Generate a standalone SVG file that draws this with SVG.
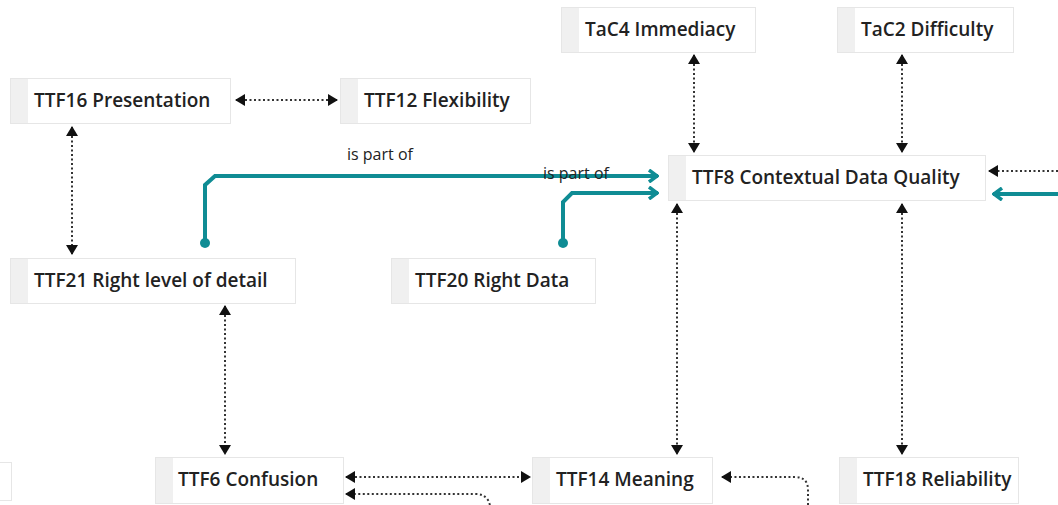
<svg xmlns="http://www.w3.org/2000/svg" width="1058" height="505" viewBox="0 0 1058 505">
<style>
.box{fill:#ffffff;stroke:#e6e6e6;stroke-width:1}
.strip{fill:#f0f0f0}
.lbl{font-family:"Open Sans","Noto Sans",sans-serif;font-size:19px;font-weight:600;fill:#222}
.small{font-family:"Open Sans","Noto Sans",sans-serif;font-size:16px;fill:#222}
.dot{fill:none;stroke:#333;stroke-width:2;stroke-dasharray:2 2.5}
.teal{fill:none;stroke:#0f8c94;stroke-width:4;stroke-linejoin:miter}
</style>
<defs>
<marker id="ah" viewBox="0 0 10 12" refX="9" refY="6" markerWidth="10" markerHeight="12" markerUnits="userSpaceOnUse" orient="auto-start-reverse">
<path d="M0,0 L10,6 L0,12 Z" fill="#111"/>
</marker>
<marker id="ta" viewBox="0 0 12 14" refX="11" refY="7" markerWidth="12" markerHeight="14" markerUnits="userSpaceOnUse" orient="auto">
<path d="M2,1 L10,7 L2,13" fill="none" stroke="#0f8c94" stroke-width="3.5"/>
</marker>
</defs>
<rect width="1058" height="505" fill="#ffffff"/>
<g id="connectors">
<line class="dot" x1="236" y1="100" x2="337" y2="100" marker-start="url(#ah)" marker-end="url(#ah)"/>
<line class="dot" x1="72" y1="127" x2="72" y2="254" marker-start="url(#ah)" marker-end="url(#ah)"/>
<line class="dot" x1="694" y1="55" x2="694" y2="152" marker-start="url(#ah)" marker-end="url(#ah)"/>
<line class="dot" x1="902" y1="55" x2="902" y2="152" marker-start="url(#ah)" marker-end="url(#ah)"/>
<line class="dot" x1="225" y1="306" x2="225" y2="454" marker-start="url(#ah)" marker-end="url(#ah)"/>
<line class="dot" x1="677" y1="204" x2="677" y2="454" marker-start="url(#ah)" marker-end="url(#ah)"/>
<line class="dot" x1="902" y1="204" x2="902" y2="454" marker-start="url(#ah)" marker-end="url(#ah)"/>
<line class="dot" x1="346" y1="477" x2="530" y2="477" marker-start="url(#ah)" marker-end="url(#ah)"/>
<path class="dot" d="M1058,171 L989,171" marker-end="url(#ah)"/>
<path class="dot" d="M490,505 L488,500 Q484,494 476,494 L346,494" marker-end="url(#ah)"/>
<path class="dot" d="M808,505 L808,490 Q808,477 795,477 L722,477" marker-end="url(#ah)"/>
<path class="teal" d="M205,243 L205,185 L215,176 L658,176" marker-end="url(#ta)"/>
<circle cx="205" cy="243" r="5" fill="#0f8c94"/>
<path class="teal" d="M563,243 L563,202 L572,193 L658,193" marker-end="url(#ta)"/>
<circle cx="563" cy="243" r="5" fill="#0f8c94"/>
<path class="teal" d="M1058,194 L993,194" marker-end="url(#ta)"/>
<text class="small" x="347" y="160">is part of</text>
<text class="small" x="543" y="179">is part of</text>
</g>
<g id="n-ttf16"><rect class="box" x="10.5" y="78.5" width="220" height="45"/><rect class="strip" x="11" y="79" width="17" height="44"/><text class="lbl" x="34" y="107">TTF16 Presentation</text></g>
<g id="n-ttf12"><rect class="box" x="340.5" y="78.5" width="190" height="45"/><rect class="strip" x="341" y="79" width="17" height="44"/><text class="lbl" x="364" y="107">TTF12 Flexibility</text></g>
<g id="n-tac4"><rect class="box" x="561.5" y="7.5" width="194" height="45"/><rect class="strip" x="562" y="8" width="17" height="44"/><text class="lbl" x="585" y="36">TaC4 Immediacy</text></g>
<g id="n-tac2"><rect class="box" x="837.5" y="7.5" width="176" height="45"/><rect class="strip" x="838" y="8" width="17" height="44"/><text class="lbl" x="861" y="36">TaC2 Difficulty</text></g>
<g id="n-ttf8"><rect class="box" x="668.5" y="155.5" width="317" height="45"/><rect class="strip" x="669" y="156" width="17" height="44"/><text class="lbl" x="692" y="184">TTF8 Contextual Data Quality</text></g>
<g id="n-ttf21"><rect class="box" x="10.5" y="258.5" width="285" height="45"/><rect class="strip" x="11" y="259" width="17" height="44"/><text class="lbl" x="34" y="287">TTF21 Right level of detail</text></g>
<g id="n-ttf20"><rect class="box" x="391.5" y="258.5" width="204" height="45"/><rect class="strip" x="392" y="259" width="17" height="44"/><text class="lbl" x="415" y="287">TTF20 Right Data</text></g>
<g id="n-ttf6"><rect class="box" x="155.5" y="457.5" width="188" height="46"/><rect class="strip" x="156" y="458" width="17" height="45"/><text class="lbl" x="178" y="486">TTF6 Confusion</text></g>
<g id="n-ttf14"><rect class="box" x="532.5" y="457.5" width="180" height="46"/><rect class="strip" x="533" y="458" width="17" height="45"/><text class="lbl" x="556" y="486">TTF14 Meaning</text></g>
<g id="n-ttf18"><rect class="box" x="839.5" y="457.5" width="179" height="46"/><rect class="strip" x="840" y="458" width="17" height="45"/><text class="lbl" x="863" y="486">TTF18 Reliability</text></g>
<g id="n-edge"><rect class="box" x="-20.5" y="462.5" width="32" height="38"/></g>
</svg>
